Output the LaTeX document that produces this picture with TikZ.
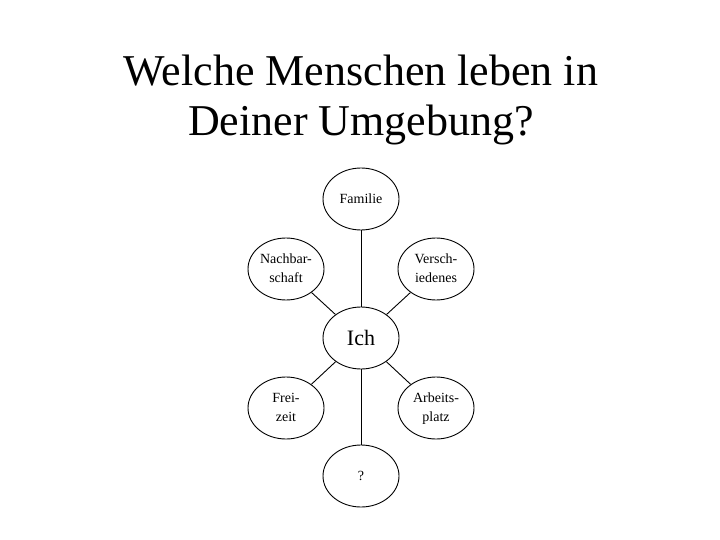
\documentclass[tikz,border=0pt]{standalone}
\usepackage{fontspec}
\setmainfont{Liberation Serif}
\usetikzlibrary{shapes.geometric}
\tikzset{
  kreis/.style={draw, line width=0.9pt, ellipse, minimum width=76pt, minimum height=62pt, inner sep=0pt,
    align=center, font=\fontsize{14}{19}\selectfont},
  verb/.style={draw, line width=0.9pt}
}
\begin{document}
\begin{tikzpicture}[x=1pt,y=-1pt]
\useasboundingbox (0,0) rectangle (720,540);
\node[align=center, font=\fontsize{44}{50}\selectfont] (titel) at (361,100) {Welche Menschen leben in\\Deiner Umgebung?};
\node[kreis] (fam) at (361,199) {Familie};
\node[kreis] (nach) at (286,269) {Nachbar-\strut\\schaft\strut};
\node[kreis] (versch) at (436,269) {Versch-\strut\\iedenes\strut};
\node[kreis, font=\fontsize{22}{24}\selectfont] (ich) at (361,338) {Ich};
\node[kreis] (frei) at (286,408) {Frei-\strut\\zeit\strut};
\node[kreis] (arb) at (436,408) {Arbeits-\strut\\platz\strut};
\node[kreis] (frage) at (361,476) {?};
\path[verb] (ich) -- (fam);
\path[verb] (ich) -- (nach);
\path[verb] (ich) -- (versch);
\path[verb] (ich) -- (frei);
\path[verb] (ich) -- (arb);
\path[verb] (ich) -- (frage);
\end{tikzpicture}
\end{document}
